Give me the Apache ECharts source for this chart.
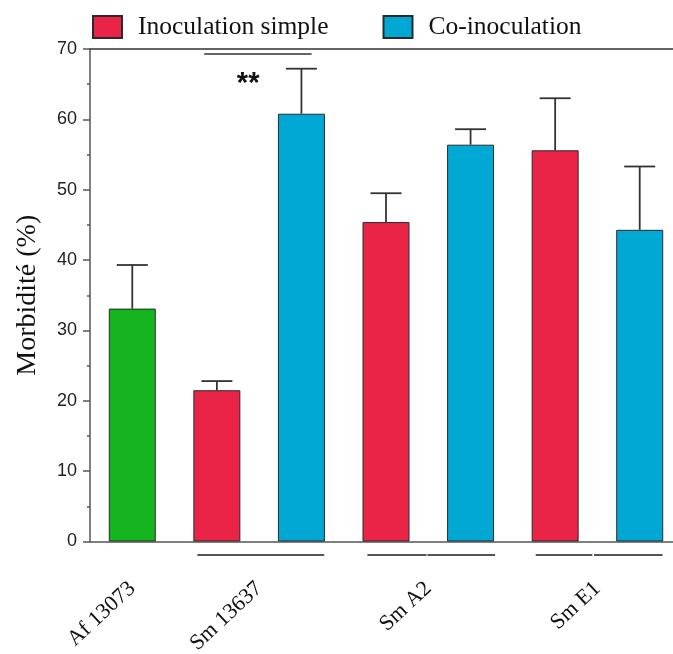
<!DOCTYPE html>
<html>
<head>
<meta charset="utf-8">
<script src="https://cdn.jsdelivr.net/npm/echarts@6/dist/echarts.min.js"></script>
<style>
html,body{margin:0;padding:0;background:#fff;}
#chart{width:673px;height:654px;}
</style>
</head>
<body>
<div id="chart"></div>
<script>
// ---- data ----
var barSlots = ['Af 13073', 'Sm 13637 simple', 'Sm 13637 co', 'Sm A2 simple', 'Sm A2 co', 'Sm E1 simple', 'Sm E1 co'];
var controlValues = [33.1, null, null, null, null, null, null];
var simpleValues = [null, 21.5, null, 45.4, null, 55.6, null];
var coValues = [null, null, 60.8, null, 56.4, null, 44.3];
var errorValues = [6.2, 1.3, 6.4, 4.1, 2.2, 7.4, 9.0];
var seriesNames = ['Inoculation simple', 'Co-inoculation'];
// group labels placed on a half-slot axis (15 points: slot edges and centres)
var groupLabelSlots = ['', 'Af 13073', '', '', 'Sm 13637', '', '', '', 'Sm A2', '', '', '', 'Sm E1', '', ''];
// group underline segments, in bar-index units
var groupLines = [[0.77, 2.27], [2.78, 3.48], [3.49, 4.29], [4.77, 5.44], [5.46, 6.27]];
// significance annotation: [x1, x2, y] and star text position
var sigLine = [[0.85, 2.12, 69.3]];
var sigStars = [[1.37, 65.0, '**']];
var yTicks = {min: 0, max: 70, interval: 10};

var chart = echarts.init(document.getElementById('chart'), null, {renderer: 'canvas'});

function fracX(api, f) {
  var a = api.coord([0, 0])[0];
  var b = api.coord([1, 0])[0];
  return a + f * (b - a);
}

var serif = 'Liberation Serif';
var sans = 'Liberation Sans';
var axisColor = '#555';

var errData = [];
for (var i = 0; i < barSlots.length; i++) {
  var v = controlValues[i] != null ? controlValues[i] : (simpleValues[i] != null ? simpleValues[i] : coValues[i]);
  errData.push([i, v, errorValues[i]]);
}

var option = {
  animation: false,
  backgroundColor: '#fff',
  legend: {
    data: seriesNames,
    left: 87,
    top: 9,
    itemWidth: 29,
    itemHeight: 22,
    itemGap: 54,
    textStyle: {fontFamily: serif, fontSize: 25.5, color: '#111', padding: [0, 0, 0, 11]},
    icon: 'rect'
  },
  grid: {left: 90, top: 49, width: 592, height: 492.5, containLabel: false, outerBoundsMode: 'none'},
  xAxis: [
    {
      type: 'category', data: barSlots, position: 'bottom',
      axisLine: {show: true, lineStyle: {color: axisColor, width: 1.5}},
      axisTick: {show: false}, axisLabel: {show: false}, splitLine: {show: false}
    },
    {
      type: 'category', data: groupLabelSlots, position: 'bottom', boundaryGap: false,
      axisLine: {show: false}, axisTick: {show: false}, splitLine: {show: false},
      axisLabel: {interval: 0, rotate: 43, margin: 44, fontFamily: serif, fontSize: 22, color: '#111'}
    },
    {
      type: 'category', data: barSlots, position: 'top',
      axisLine: {show: true, lineStyle: {color: '#333', width: 1.5}},
      axisTick: {show: false}, axisLabel: {show: false}, splitLine: {show: false}
    }
  ],
  yAxis: {
    type: 'value', min: yTicks.min, max: yTicks.max, interval: yTicks.interval,
    name: 'Morbidité (%)', nameLocation: 'middle', nameGap: 48, nameRotate: 90,
    nameTextStyle: {fontFamily: serif, fontSize: 28, color: '#111'},
    axisLine: {show: true, lineStyle: {color: axisColor, width: 1.5}},
    axisTick: {show: true, inside: false, length: 7, lineStyle: {color: axisColor, width: 1.5}},
    minorTick: {show: true, splitNumber: 2, length: 3, lineStyle: {color: axisColor, width: 1.5}},
    axisLabel: {margin: 13, fontFamily: sans, fontSize: 18, color: '#222'},
    splitLine: {show: false}
  },
  series: [
    {
      name: 'Contrôle', type: 'bar', data: controlValues, barWidth: 47, barGap: '-100%',
      itemStyle: {color: '#14b41e', borderColor: '#2a2a2a', borderWidth: 1}
    },
    {
      name: seriesNames[0], type: 'bar', data: simpleValues, barWidth: 47, barGap: '-100%',
      itemStyle: {color: '#ea2447', borderColor: '#2a2a2a', borderWidth: 1}
    },
    {
      name: seriesNames[1], type: 'bar', data: coValues, barWidth: 47, barGap: '-100%',
      itemStyle: {color: '#01a8d4', borderColor: '#2a2a2a', borderWidth: 1}
    },
    {
      name: 'err', type: 'custom', data: errData, z: 5,
      renderItem: function (params, api) {
        var x = api.value(0), v = api.value(1), e = api.value(2);
        var p0 = api.coord([x, v]);
        var p1 = api.coord([x, v + e]);
        var hw = 15.5;
        return {
          type: 'group',
          children: [
            {type: 'line', shape: {x1: p0[0], y1: p0[1], x2: p1[0], y2: p1[1]}, style: {stroke: '#333', lineWidth: 1.8}},
            {type: 'line', shape: {x1: p1[0] - hw, y1: p1[1], x2: p1[0] + hw, y2: p1[1]}, style: {stroke: '#333', lineWidth: 1.8}}
          ]
        };
      }
    },
    {
      name: 'groups', type: 'custom', data: groupLines, clip: false,
      renderItem: function (params, api) {
        var y = api.coord([0, 0])[1] + 13.5;
        return {
          type: 'line',
          shape: {x1: fracX(api, api.value(0)), y1: y, x2: fracX(api, api.value(1)), y2: y},
          style: {stroke: '#555', lineWidth: 2}
        };
      }
    },
    {
      name: 'sig', type: 'custom', data: sigLine, clip: false,
      renderItem: function (params, api) {
        var y = api.coord([0, api.value(2)])[1];
        return {
          type: 'line',
          shape: {x1: fracX(api, api.value(0)), y1: y, x2: fracX(api, api.value(1)), y2: y},
          style: {stroke: '#333', lineWidth: 1.5}
        };
      }
    },
    {
      name: 'stars', type: 'custom', data: sigStars, clip: false,
      renderItem: function (params, api) {
        var y = api.coord([0, api.value(1)])[1];
        return {
          type: 'text',
          x: fracX(api, api.value(0)), y: y,
          style: {text: sigStars[params.dataIndex][2], font: 'bold 29px "Liberation Sans"', fill: '#111', align: 'center', verticalAlign: 'middle'}
        };
      }
    }
  ]
};
chart.setOption(option);
</script>
</body>
</html>
